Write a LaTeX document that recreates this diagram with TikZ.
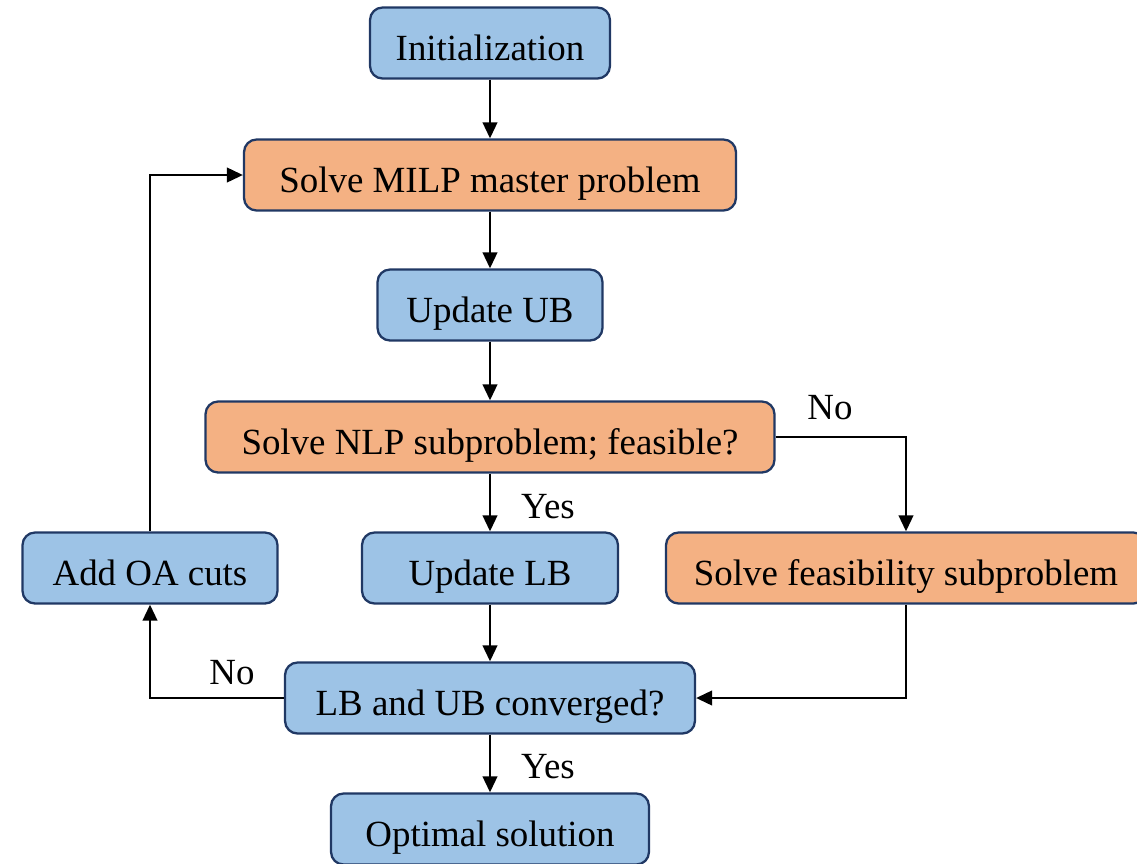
\documentclass[tikz,border=0pt]{standalone}
\usepackage{fontspec}
\setmainfont{Liberation Serif}
\usetikzlibrary{arrows.meta}
\definecolor{boxblue}{HTML}{9DC3E6}
\definecolor{boxorange}{HTML}{F4B183}
\definecolor{boxedge}{HTML}{203864}
\begin{document}
\begin{tikzpicture}[x=0.02cm, y=-0.02cm,
    step box/.style ={draw=boxedge, line width=1.3pt, rounded corners=0.25cm,
      minimum height=1.42cm, text height=20pt, text depth=0.6pt,
      font=\fontsize{21}{25}\selectfont},
    blue box/.style ={step box, fill=boxblue},
    orange box/.style ={step box, fill=boxorange},
    flow/.style ={line width=1.4pt, -{Triangle[length=0.32cm,width=0.29cm]}},
    answer/.style ={font=\fontsize{21}{25}\selectfont}]
   \useasboundingbox (0,0) rectangle (1137,863);

   \node[blue box, minimum width=4.8cm] (init) at (490,43) {Initialization};
   \node[orange box, minimum width=9.84cm] (milp) at (490,175) {Solve MILP master problem};
   \node[blue box, minimum width=4.5cm] (ub) at (490,305) {Update UB};
   \node[orange box, minimum width=11.38cm] (nlp) at (490,437) {Solve NLP subproblem; feasible?};
   \node[blue box, minimum width=5.1cm] (oa) at (150,568) {Add OA cuts};
   \node[blue box, minimum width=5.12cm] (lb) at (490,568) {Update LB};
   \node[orange box, minimum width=9.6cm] (feas) at (906,568) {Solve feasibility subproblem};
   \node[blue box, minimum width=8.2cm] (conv) at (490,698) {LB and UB converged?};
   \node[blue box, minimum width=6.36cm] (opt) at (490,829) {Optimal solution};

   \draw[flow] (init) to (milp);
   \draw[flow] (milp) to (ub);
   \draw[flow] (ub) to (nlp);
   \draw[flow] (nlp) to (lb);
   \draw[flow] (nlp.east) -| (feas.north);
   \draw[flow] (lb) to (conv);
   \draw[flow] (feas.south) |- (conv.east);
   \draw[flow] (conv.west) -| (oa.south);
   \draw[flow] (oa.north) |- (milp.west);
   \draw[flow] (conv) to (opt);

   \node[answer] (yes1) at (548,507) {Yes};
   \node[answer] (no1) at (830,408) {No};
   \node[answer] (no2) at (232,673) {No};
   \node[answer] (yes2) at (548,767) {Yes};
 \end{tikzpicture}
\end{document}
